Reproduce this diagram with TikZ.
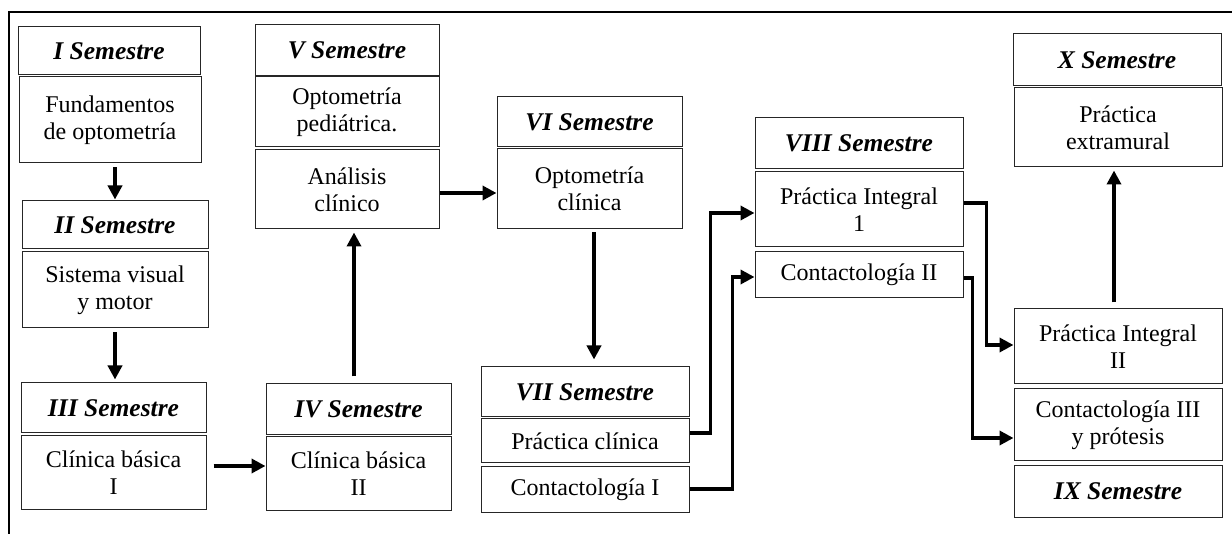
\documentclass[tikz,border=0pt]{standalone}
\usepackage{fontspec}
\setmainfont{Liberation Serif}
\usetikzlibrary{calc,positioning,arrows.meta}
\tikzset{
  sz/.style 2 args={minimum width=#1pt,minimum height=#2pt},
  semhead/.style={draw=black!85,line width=1pt,inner sep=1pt,align=center,
    font=\fontsize{25.5}{30}\selectfont\bfseries\itshape},
  subjbox/.style={draw=black!85,line width=1pt,inner sep=1pt,align=center,
    font=\fontsize{24}{27}\selectfont},
  arr/.style={line width=3.5pt,-{Triangle[length=14pt,width=14pt]}}
}
\begin{document}
\begin{tikzpicture}[x=1pt,y=-1pt]
  \useasboundingbox (0,0) rectangle (1232,534);
  \draw[line width=2pt] (1232,12.5) -- (8.5,12.5) -- (8.5,534);

  \node[semhead,sz={182}{48}] (s1h) at (109,51) {I Semestre};
  \node[subjbox,sz={182}{86}] (s1a) at (110,120) {Fundamentos\\de optometría};
  \node[semhead,sz={186}{48}] (s2h) at (115,225) {II Semestre};
  \node[subjbox,sz={186}{76}] (s2a) at (115,290) {Sistema visual\\y motor};
  \node[semhead,sz={185}{50}] (s3h) at (113.5,408) {III Semestre};
  \node[subjbox,sz={185}{73}] (s3a) at (113.5,472.5) {Clínica básica\\I};
  \node[semhead,sz={185}{51}] (s4h) at (358.5,409.5) {IV Semestre};
  \node[subjbox,sz={185}{73}] (s4a) at (358.5,473.5) {Clínica básica\\II};
  \node[semhead,sz={184}{51}] (s5h) at (347,50.5) {V Semestre};
  \node[subjbox,sz={184}{70}] (s5a) at (347,112) {Optometría\\pediátrica.};
  \node[subjbox,sz={184}{79}] (s5b) at (347,189.5) {Análisis\\clínico};
  \node[semhead,sz={185}{50}] (s6h) at (589.5,122) {VI Semestre};
  \node[subjbox,sz={185}{80}] (s6a) at (589.5,189) {Optometría\\clínica};
  \node[semhead,sz={208}{50}] (s7h) at (585,392) {VII Semestre};
  \node[subjbox,sz={208}{44}] (s7a) at (585,441) {Práctica clínica};
  \node[subjbox,sz={208}{45}] (s7b) at (585,489.5) {Contactología I};
  \node[semhead,sz={208}{51}] (s8h) at (859,143.5) {VIII Semestre};
  \node[subjbox,sz={208}{75}] (s8a) at (859,209.5) {Práctica Integral\\1};
  \node[subjbox,sz={208}{46}] (s8b) at (859,275) {Contactología II};
  \node[subjbox,sz={208}{75}] (s9a) at (1118,346.5) {Práctica Integral\\II};
  \node[subjbox,sz={208}{72}] (s9b) at (1118,425) {Contactología III\\y prótesis};
  \node[semhead,sz={208}{51}] (s9h) at (1118,491.5) {IX Semestre};
  \node[semhead,sz={208}{52}] (s10h) at (1117,60) {X Semestre};
  \node[subjbox,sz={208}{79}] (s10a) at (1118,127.5) {Práctica\\extramural};

  % flechas entre semestres
  \draw[arr] ($(s1a.south)+(5,4)$) -- ($(s2h.north)+(0,-1)$);
  \draw[arr] ($(s2a.south)+(0,4)$) -- ($(s3h.north)+(1.5,-3)$);
  \draw[arr] ($(s3a.east)+(7,-6.5)$) -- ($(s4a.west)+(0,-7.5)$);
  \draw[arr] ($(s4h.north)+(-4.5,-7)$) -- ($(s5b.south)+(7,3)$);
  \draw[arr] ($(s5b.east)+(0,3.5)$) -- ($(s6a.west)+(0,4)$);
  \draw[arr] ($(s6a.south)+(4.5,3)$) -- ($(s7h.north)+(9,-7)$);
  \draw[arr] ($(s7a.east)+(0,-8)$) -| ($(s8a.west)+(-44,3.5)$) -- ($(s8a.west)+(0,3.5)$);
  \draw[arr] ($(s7b.east)+(0,-0.5)$) -| ($(s8b.west)+(-22,2)$) -- ($(s8b.west)+(0,2)$);
  \draw[arr] ($(s8a.east)+(0,-6.5)$) -| ($(s9a.west)+(-27,-1.5)$) -- ($(s9a.west)+(0,-1.5)$);
  \draw[arr] ($(s8b.east)+(0,3)$) -| ($(s9b.west)+(-41,13)$) -- ($(s9b.west)+(0,13)$);
  \draw[arr] ($(s9a.north)+(-4,-6)$) -- ($(s10a.south)+(-4,3)$);
\end{tikzpicture}
\end{document}
